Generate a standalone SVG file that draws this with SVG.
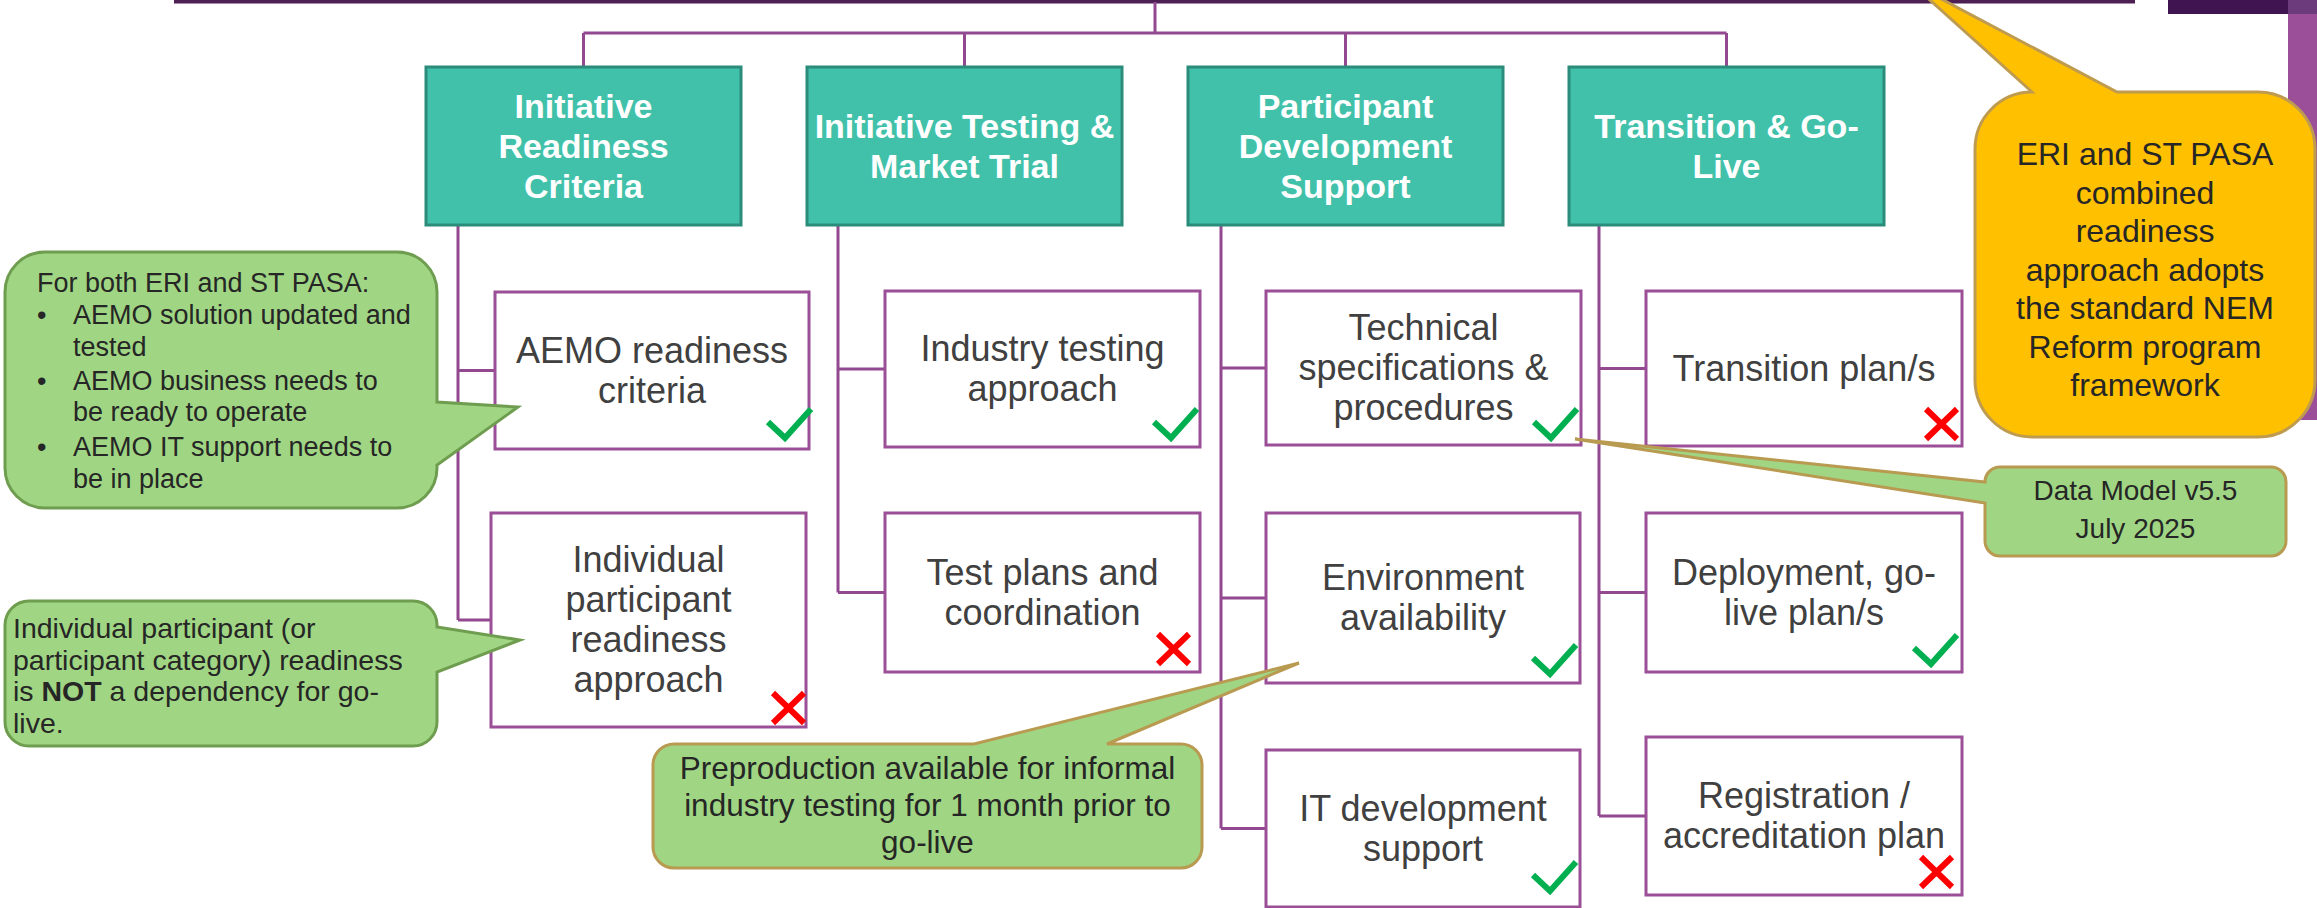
<svg xmlns="http://www.w3.org/2000/svg" xmlns:xlink="http://www.w3.org/1999/xlink" width="2317" height="908" viewBox="0 0 2317 908">
<style>
text{font-family:"Liberation Sans",Arial,sans-serif}
.hdr{fill:#42c1aa;stroke:#2b8c7b;stroke-width:3}
.hdrt{font-size:34px;font-weight:bold;fill:#fff;text-anchor:middle}
.box{fill:#fff;stroke:#9a4f96;stroke-width:3}
.bt{font-size:36px;fill:#404040;text-anchor:middle}
.con{stroke:#93498f;stroke-width:3;fill:none}
.chk{stroke:#00b050;stroke-width:6;fill:none}
.crs{stroke:#ff0000;stroke-width:6;fill:none}
.cg{fill:#a0d683;stroke:#6f9d4f;stroke-width:3}
.cg2{fill:#a0d683;stroke:#b89a50;stroke-width:3}
.cy{fill:#ffc000;stroke:#bf9b50;stroke-width:3}
.ct{fill:#262626}
</style>
<defs>
<path id="ck" class="chk" d="M0,13 L17,29 L43,0"/>
<path id="xx" class="crs" d="M0,0 L31,30 M31,0 L0,30"/>
</defs>
<rect width="2317" height="908" fill="#fff"/>
<!-- decorative top right -->
<rect x="2288" y="0" width="29" height="420" fill="#9c4f99"/>
<rect x="2168" y="0" width="120" height="14" fill="#3f1451"/>
<rect x="2288" y="0" width="29" height="14" fill="#6b3b7b"/>

<g id="connectors">
<line x1="174" y1="1.5" x2="2135" y2="1.5" stroke="#4d1f53" stroke-width="4"/>
<path class="con" stroke="#7d3a80" d="M1155,2 V33 M583.5,33 H1726.5 M583.5,33 V67 M964.5,33 V67 M1345.5,33 V67 M1726.5,33 V67"/>
<path class="con" d="M458,225 V620 M458,370.5 H495 M458,620 H491"/>
<path class="con" d="M838,225 V592.5 M838,369 H885 M838,592.5 H885"/>
<path class="con" d="M1221,225 V828.5 M1221,368 H1266 M1221,598 H1266 M1221,828.5 H1266"/>
<path class="con" d="M1599,225 V816 M1599,368.5 H1646 M1599,592.5 H1646 M1599,816 H1646"/>
</g>

<g id="h1"><rect class="hdr" x="426" y="67" width="315" height="158"/>
<text class="hdrt" x="583.5"><tspan x="583.5" y="118">Initiative</tspan><tspan x="583.5" y="158">Readiness</tspan><tspan x="583.5" y="198">Criteria</tspan></text></g>
<g id="h2"><rect class="hdr" x="807" y="67" width="315" height="158"/>
<text class="hdrt"><tspan x="964.5" y="138">Initiative Testing &amp;</tspan><tspan x="964.5" y="178">Market Trial</tspan></text></g>
<g id="h3"><rect class="hdr" x="1188" y="67" width="315" height="158"/>
<text class="hdrt"><tspan x="1345.5" y="118">Participant</tspan><tspan x="1345.5" y="158">Development</tspan><tspan x="1345.5" y="198">Support</tspan></text></g>
<g id="h4"><rect class="hdr" x="1569" y="67" width="315" height="158"/>
<text class="hdrt"><tspan x="1726.5" y="138">Transition &amp; Go-</tspan><tspan x="1726.5" y="178">Live</tspan></text></g>

<g id="b1"><rect class="box" x="495" y="292" width="314" height="157"/>
<text class="bt"><tspan x="652" y="362.5">AEMO readiness</tspan><tspan x="652" y="402.5">criteria</tspan></text>
<use xlink:href="#ck" x="768" y="409"/></g>
<g id="b2"><rect class="box" x="491" y="513" width="315" height="214"/>
<text class="bt"><tspan x="648.5" y="572">Individual</tspan><tspan x="648.5" y="612">participant</tspan><tspan x="648.5" y="652">readiness</tspan><tspan x="648.5" y="692">approach</tspan></text>
<use xlink:href="#xx" x="773" y="693"/></g>
<g id="b3"><rect class="box" x="885" y="291" width="315" height="156"/>
<text class="bt"><tspan x="1042.5" y="361">Industry testing</tspan><tspan x="1042.5" y="401">approach</tspan></text>
<use xlink:href="#ck" x="1154" y="409"/></g>
<g id="b4"><rect class="box" x="885" y="513" width="315" height="159"/>
<text class="bt"><tspan x="1042.5" y="584.5">Test plans and</tspan><tspan x="1042.5" y="624.5">coordination</tspan></text>
<use xlink:href="#xx" x="1158" y="634"/></g>
<g id="b5"><rect class="box" x="1266" y="291" width="315" height="154"/>
<text class="bt"><tspan x="1423.5" y="340">Technical</tspan><tspan x="1423.5" y="380">specifications &amp;</tspan><tspan x="1423.5" y="420">procedures</tspan></text>
<use xlink:href="#ck" x="1534" y="409"/></g>
<g id="b6"><rect class="box" x="1266" y="513" width="314" height="170"/>
<text class="bt"><tspan x="1423" y="590">Environment</tspan><tspan x="1423" y="630">availability</tspan></text>
<use xlink:href="#ck" x="1533" y="645"/></g>
<g id="b7"><rect class="box" x="1266" y="750" width="314" height="157"/>
<text class="bt"><tspan x="1423" y="820.5">IT development</tspan><tspan x="1423" y="860.5">support</tspan></text>
<use xlink:href="#ck" x="1533" y="862"/></g>
<g id="b8"><rect class="box" x="1646" y="291" width="316" height="155"/>
<text class="bt"><tspan x="1804" y="380.5">Transition plan/s</tspan></text>
<use xlink:href="#xx" x="1926" y="409"/></g>
<g id="b9"><rect class="box" x="1646" y="513" width="316" height="159"/>
<text class="bt"><tspan x="1804" y="584.5">Deployment, go-</tspan><tspan x="1804" y="624.5">live plan/s</tspan></text>
<use xlink:href="#ck" x="1914" y="635"/></g>
<g id="b10"><rect class="box" x="1646" y="737" width="316" height="158"/>
<text class="bt"><tspan x="1804" y="808">Registration /</tspan><tspan x="1804" y="848">accreditation plan</tspan></text>
<use xlink:href="#xx" x="1921" y="857"/></g>

<g id="callout-eri">
<path class="cy" d="M2032,92 L1911,-17 L2117,92 H2258 A57,57 0 0 1 2315,149 V380 A57,57 0 0 1 2258,437 H2032 A57,57 0 0 1 1975,380 V149 A57,57 0 0 1 2032,92 Z"/>
<text class="ct" font-size="32" text-anchor="middle"><tspan x="2145" y="165">ERI and ST PASA</tspan><tspan x="2145" y="203.5">combined</tspan><tspan x="2145" y="242">readiness</tspan><tspan x="2145" y="280.5">approach adopts</tspan><tspan x="2145" y="319">the standard NEM</tspan><tspan x="2145" y="357.5">Reform program</tspan><tspan x="2145" y="396">framework</tspan></text>
</g>

<g id="callout-aemo">
<path class="cg" d="M45,252 H397 A40,40 0 0 1 437,292 V402 L518,407 L437,465 V468 A40,40 0 0 1 397,508 H45 A40,40 0 0 1 5,468 V292 A40,40 0 0 1 45,252 Z"/>
<text class="ct" font-size="27"><tspan x="37" y="292">For both ERI and ST PASA:</tspan><tspan x="37" y="324">•</tspan><tspan x="73" y="324">AEMO solution updated and</tspan><tspan x="73" y="356">tested</tspan><tspan x="37" y="390">•</tspan><tspan x="73" y="390">AEMO business needs to</tspan><tspan x="73" y="421">be ready to operate</tspan><tspan x="37" y="456">•</tspan><tspan x="73" y="456">AEMO IT support needs to</tspan><tspan x="73" y="488">be in place</tspan></text>
</g>

<g id="callout-individual">
<path class="cg" d="M29,601 H413 A24,24 0 0 1 437,625 V627 L520,640 L437,672 V722 A24,24 0 0 1 413,746 H29 A24,24 0 0 1 5,722 V625 A24,24 0 0 1 29,601 Z"/>
<text class="ct" font-size="28.5"><tspan x="13" y="638">Individual participant (or</tspan><tspan x="13" y="670">participant category) readiness</tspan><tspan x="13" y="701">is <tspan font-weight="bold">NOT</tspan> a dependency for go-</tspan><tspan x="13" y="733">live.</tspan></text>
</g>

<g id="callout-datamodel">
<path class="cg2" d="M2000,467 H2271 A15,15 0 0 1 2286,482 V541 A15,15 0 0 1 2271,556 H2000 A15,15 0 0 1 1985,541 V503 L1575,439 L1985,482 A15,15 0 0 1 2000,467 Z"/>
<text class="ct" font-size="28" text-anchor="middle"><tspan x="2135.5" y="500">Data Model v5.5</tspan><tspan x="2135.5" y="538">July 2025</tspan></text>
</g>

<g id="callout-preprod">
<path class="cg2" d="M674,744 H974 L1299,663 L1107,744 H1181 A21,21 0 0 1 1202,765 V847 A21,21 0 0 1 1181,868 H674 A21,21 0 0 1 653,847 V765 A21,21 0 0 1 674,744 Z"/>
<text class="ct" font-size="31.5" text-anchor="middle"><tspan x="927.5" y="779">Preproduction available for informal</tspan><tspan x="927.5" y="816">industry testing for 1 month prior to</tspan><tspan x="927.5" y="853">go-live</tspan></text>
</g>
</svg>
